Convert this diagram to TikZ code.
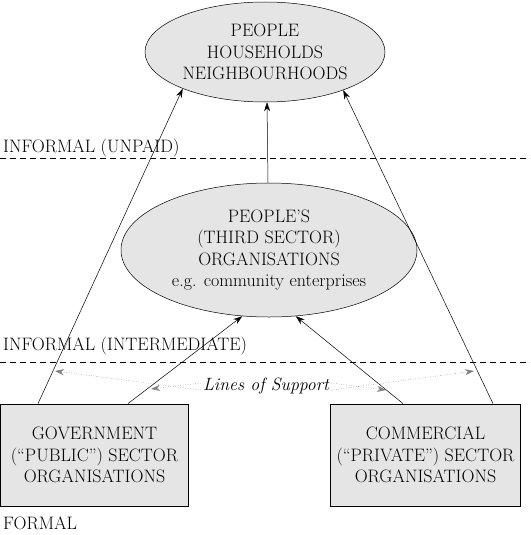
\documentclass[tikz,border=0pt]{standalone}
\usetikzlibrary{shapes.geometric,arrows.meta}
\begin{document}
\begin{tikzpicture}[x=1pt,y=-1pt,
  txt/.style={font=\fontsize{18}{21.5}\selectfont},
  bub/.style={ellipse,draw,fill=black!10,line width=0.5pt,inner sep=0pt,align=center,txt},
  boxy/.style={rectangle,draw,fill=black!10,line width=0.8pt,inner sep=0pt,align=center,txt},
  arr/.style={-{Stealth[length=9pt,width=6pt]},line width=0.5pt},
  dots/.style={-{Stealth[length=9pt,width=6pt]},dotted,line width=0.5pt,draw=black!50},
  lvl/.style={anchor=base west,txt,inner sep=0pt},
  sep/.style={dash pattern=on 6pt off 4pt,line width=0.6pt}]
\useasboundingbox (0,0) rectangle (530,535);
\node[bub,minimum width=240pt,minimum height=100pt] (top) at (265,52) {PEOPLE\\HOUSEHOLDS\\NEIGHBOURHOODS};
\node[bub,minimum width=296pt,minimum height=134pt] (mid) at (269,250) {PEOPLE'S\\(THIRD SECTOR)\\ORGANISATIONS\\e.g. community enterprises};
\node[boxy,minimum width=188pt,minimum height=102pt] (gov) at (94.5,455) {GOVERNMENT\\(``PUBLIC'') SECTOR\\ORGANISATIONS};
\node[boxy,minimum width=190pt,minimum height=102pt] (com) at (425.5,455) {COMMERCIAL\\(``PRIVATE'') SECTOR\\ORGANISATIONS};
\node[lvl] (l1) at (3,152) {INFORMAL (UNPAID)};
\node[lvl] (l2) at (3,350) {INFORMAL (INTERMEDIATE)};
\node[lvl] (l3) at (3,529) {FORMAL};
\coordinate (d1a) at (0,158); \coordinate (d1b) at (530,158);
\coordinate (d2a) at (0,362); \coordinate (d2b) at (530,362);
\draw[sep] (d1a) -- (d1b);
\draw[sep] (d2a) -- (d2b);
\draw[arr] ([xshift=-1pt]mid.north) -- ([xshift=2pt]top.south);
\draw[arr] ([xshift=-56.5pt]gov.north) -- (top.204);
\draw[arr] ([xshift=67.5pt]com.north) -- (top.334);
\draw[arr] ([xshift=33.5pt]gov.north) -- (mid.248);
\draw[arr] ([xshift=-22.5pt]com.north) -- (mid.292);
\node[font=\itshape\fontsize{17.8}{18}\selectfont,inner sep=2pt] (sup) at (266,386) {Lines of Support};
\coordinate (s1) at (55,371); \coordinate (s2) at (151,389);
\coordinate (s3) at (474,371); \coordinate (s4) at (386,390);
\draw[dots] ([yshift=-4pt]sup.west) -- (s1);
\draw[dots] ([yshift=3pt]sup.west) -- (s2);
\draw[dots] ([yshift=-4pt]sup.east) -- (s3);
\draw[dots] ([yshift=3pt]sup.east) -- (s4);
\end{tikzpicture}
\end{document}
